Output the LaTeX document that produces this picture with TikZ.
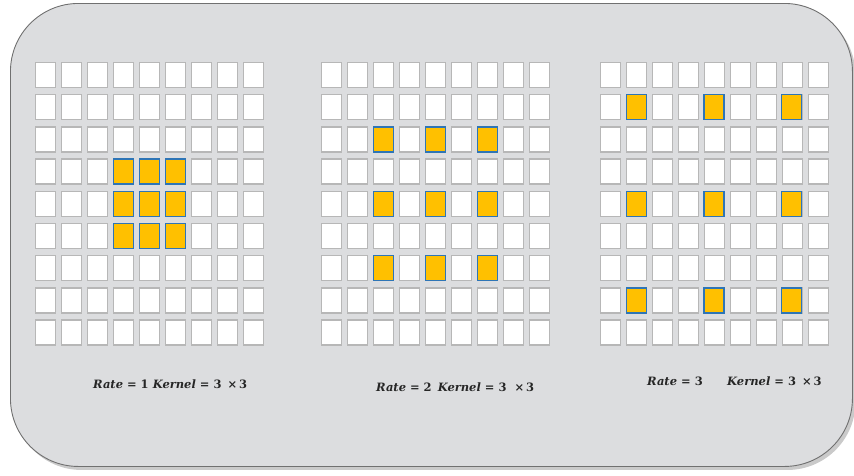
\documentclass[tikz,border=0pt]{standalone}
\usepackage{fontspec}
\newfontfamily\labelfont{DejaVu Serif}
\usetikzlibrary{shadows}
\definecolor{panelgray}{HTML}{DCDDDF}
\definecolor{panelborder}{HTML}{707070}
\definecolor{cellborder}{HTML}{B7B7B7}
\definecolor{hotfill}{HTML}{FFC000}
\definecolor{hotborder}{HTML}{2E75B6}
\definecolor{labeltext}{HTML}{262626}
\newcommand{\vb}[1]{{\itshape #1}}
\tikzset{
  panel/.style={draw=panelborder, line width=0.9pt, fill=panelgray, rounded corners=68pt,
    drop shadow={shadow xshift=3pt, shadow yshift=-3.5pt, fill=black!60, opacity=0.35}},
  cell/.style={draw=cellborder, line width=1.5pt, fill=white, minimum width=20pt,
    minimum height=25pt, inner sep=0pt, outer sep=0pt},
  hot/.style={cell, draw=hotborder, line width=1.3pt, fill=hotfill},
  lbl/.style={inner sep=0pt, anchor=west, text=labeltext,
    font=\labelfont\fontsize{11.5}{14}\selectfont\bfseries}
}
\begin{document}
\begin{tikzpicture}[x=1pt,y=-1pt]
\useasboundingbox (0,0) rectangle (854,475);
\node[panel, minimum width=842pt, minimum height=463pt, inner sep=0pt, anchor=north west] (panel) at (10,3) {};
\foreach \g/\xo in {L/35, M/321, R/600}{
  \foreach \r in {0,...,8}{
    \foreach \c in {0,...,8}{
      \node[cell] (\g-\r-\c) at ({\xo+10.5+26*\c},{75+32.2*\r}) {};
    }
  }
}
% Rate 1 : rows/cols 3..5
\foreach \r in {3,4,5}{\foreach \c in {3,4,5}{
  \node[hot] (L-hot-\r-\c) at ({35+10.5+26*\c},{75+32.2*\r}) {};}}
% Rate 2 : rows/cols 2,4,6
\foreach \r in {2,4,6}{\foreach \c in {2,4,6}{
  \node[hot] (M-hot-\r-\c) at ({321+10.5+26*\c},{75+32.2*\r}) {};}}
% Rate 3 : rows/cols 1,4,7
\foreach \r in {1,4,7}{\foreach \c in {1,4,7}{
  \node[hot] (R-hot-\r-\c) at ({600+10.5+25.9*\c},{75+32.2*\r}) {};}}
\node[lbl] (lab1) at (93,384) {\vb{Rate} = 1 \vb{Kernel} = 3\hspace{6pt}×\hspace{2pt}3};
\node[lbl] (lab2) at (376,387) {\vb{Rate} = 2\hspace{6pt}\vb{Kernel} = 3\hspace{8pt}×\hspace{2pt}3};
\node[lbl] (lab3a) at (647,381) {\vb{Rate} = 3};
\node[lbl] (lab3b) at (727,381) {\vb{Kernel} = 3\hspace{6pt}×\hspace{2pt}3};
\end{tikzpicture}
\end{document}
